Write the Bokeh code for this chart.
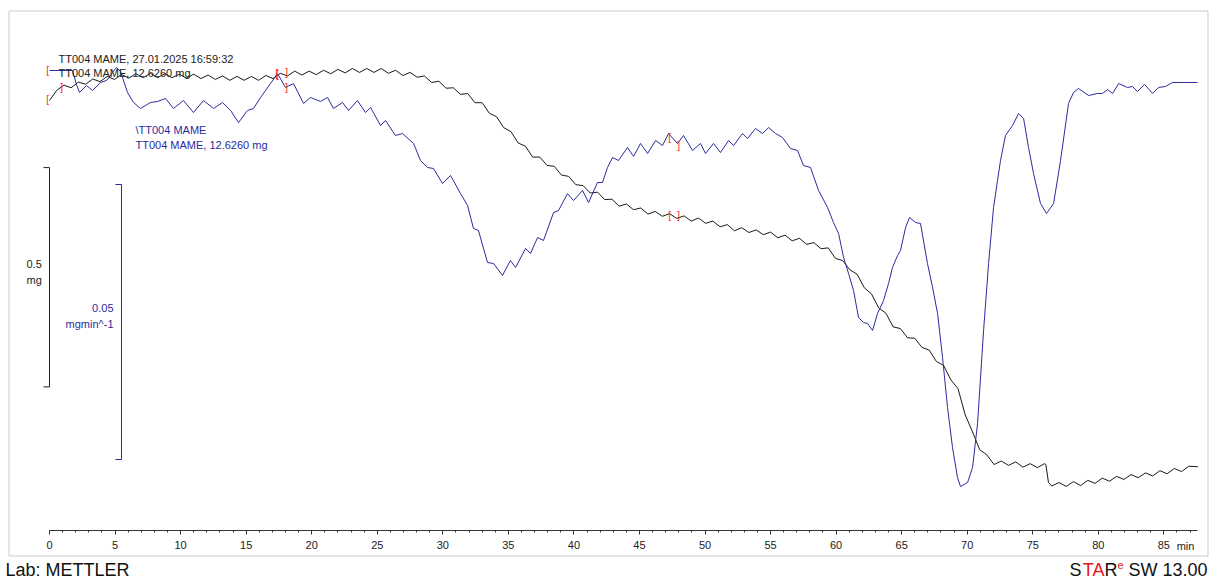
from bokeh.plotting import figure
from bokeh.models import Range1d, LinearAxis, SingleIntervalTicker, Label, BoxAnnotation
from bokeh.core.properties import value
from bokeh.embed import file_html
from bokeh.resources import INLINE

# ---------------- data ----------------
tg_time = [0.00, 0.55, 1.10, 1.65, 2.20, 2.75, 3.30, 3.85, 4.40, 4.95, 5.50, 6.05, 6.60, 7.15, 7.70,
           8.25, 8.80, 9.35, 9.90, 10.45, 11.00, 11.55, 12.10, 12.65, 13.20, 13.75, 14.30, 14.85,
           15.40, 15.95, 16.50, 17.05, 17.60, 18.15, 18.70, 19.25, 19.80, 20.35, 20.90, 21.45,
           22.00, 22.55, 23.10, 23.65, 24.20, 24.75, 25.30, 25.85, 26.40, 26.95, 27.50, 28.05,
           28.60, 29.15, 29.70, 30.25, 30.80, 31.35, 31.90, 32.45, 33.00, 33.55, 34.10, 34.65,
           35.20, 35.75, 36.30, 36.85, 37.40, 37.95, 38.50, 39.05, 39.60, 40.15, 40.70, 41.25,
           41.80, 42.35, 42.90, 43.45, 44.00, 44.55, 45.10, 45.65, 46.20, 46.75, 47.30, 47.85,
           48.40, 48.95, 49.50, 50.05, 50.60, 51.15, 51.70, 52.25, 52.80, 53.35, 53.90, 54.45,
           55.00, 55.55, 56.10, 56.65, 57.20, 57.75, 58.30, 58.85, 59.40, 59.95, 60.50, 61.05,
           61.60, 62.15, 62.70, 63.25, 63.80, 64.35, 64.90, 65.45, 66.00, 66.55, 67.10, 67.65,
           68.20, 68.75, 69.30, 69.85, 70.40, 70.95, 71.50, 72.05, 72.60, 73.15, 73.70, 74.25,
           74.80, 75.35, 75.90, 76.00, 76.20, 76.45, 77.00, 77.55, 78.10, 78.65, 79.20, 79.75,
           80.30, 80.85, 81.40, 81.95, 82.50, 83.05, 83.60, 84.15, 84.70, 85.25, 85.80, 86.35,
           86.90, 87.60]
tg_mg = [12.626, 12.649, 12.661, 12.655, 12.668, 12.663, 12.675, 12.669, 12.681, 12.674, 12.685,
         12.677, 12.687, 12.678, 12.688, 12.678, 12.687, 12.678, 12.686, 12.677, 12.686, 12.676,
         12.684, 12.674, 12.682, 12.672, 12.681, 12.672, 12.681, 12.672, 12.683, 12.676, 12.688,
         12.682, 12.693, 12.684, 12.693, 12.685, 12.695, 12.687, 12.697, 12.689, 12.699, 12.690,
         12.699, 12.690, 12.699, 12.688, 12.695, 12.683, 12.690, 12.679, 12.682, 12.667, 12.670,
         12.654, 12.655, 12.640, 12.642, 12.621, 12.621, 12.597, 12.589, 12.564, 12.555, 12.529,
         12.522, 12.497, 12.497, 12.478, 12.476, 12.456, 12.453, 12.434, 12.432, 12.415, 12.417,
         12.400, 12.401, 12.385, 12.390, 12.377, 12.381, 12.367, 12.373, 12.362, 12.368, 12.357,
         12.363, 12.351, 12.358, 12.346, 12.351, 12.338, 12.343, 12.329, 12.336, 12.325, 12.331,
         12.320, 12.326, 12.313, 12.319, 12.306, 12.312, 12.298, 12.302, 12.288, 12.290, 12.266,
         12.261, 12.240, 12.230, 12.199, 12.185, 12.153, 12.141, 12.110, 12.106, 12.085, 12.084,
         12.063, 12.057, 12.031, 12.022, 11.989, 11.969, 11.909, 11.871, 11.830, 11.818, 11.796,
         11.804, 11.794, 11.802, 11.790, 11.798, 11.789, 11.798, 11.796, 11.755, 11.747, 11.755,
         11.746, 11.757, 11.748, 11.760, 11.753, 11.765, 11.758, 11.769, 11.762, 11.773, 11.766,
         11.777, 11.770, 11.782, 11.775, 11.787, 11.780, 11.792, 11.791]

dtg_time = [0.00, 1.75, 2.06, 2.29, 2.82, 3.28, 3.89, 4.35, 4.81, 5.11, 5.42, 5.95, 6.41, 6.94,
            7.70, 8.24, 8.85, 9.46, 10.22, 10.98, 11.75, 12.51, 13.20, 13.81, 14.42, 15.10,
            15.56, 16.10, 16.86, 17.39, 18.00, 18.61, 19.38, 19.91, 20.67, 21.21, 21.66, 22.35,
            22.81, 23.49, 24.10, 24.49, 25.25, 25.63, 26.39, 26.93, 27.77, 28.30, 28.83, 29.29,
            29.98, 30.59, 31.35, 31.89, 32.34, 32.72, 33.41, 33.87, 34.55, 35.16, 35.55, 36.31,
            36.69, 37.23, 37.68, 38.45, 38.83, 39.51, 39.97, 40.66, 41.12, 41.80, 42.18, 42.56,
            42.95, 43.40, 44.09, 44.55, 45.08, 45.62, 46.23, 46.76, 47.22, 47.90, 48.36, 49.05,
            49.66, 50.04, 50.65, 51.18, 51.80, 52.18, 52.86, 53.24, 53.85, 54.39, 54.85, 55.38,
            55.91, 56.52, 57.06, 57.51, 58.05, 58.66, 59.35, 59.80, 60.19, 60.57, 60.95, 61.33,
            61.71, 62.09, 62.40, 62.78, 63.16, 63.62, 64.00, 64.30, 64.69, 64.91, 65.30, 65.60,
            66.06, 66.44, 66.97, 67.36, 67.74, 68.12, 68.50, 68.88, 69.26, 69.49, 70.03, 70.41,
            70.79, 71.25, 71.63, 72.01, 72.31, 72.54, 72.92, 73.46, 73.92, 74.30, 74.68, 75.06,
            75.59, 76.05, 76.59, 77.12, 77.73, 78.11, 78.49, 79.26, 79.94, 80.32, 80.71, 81.09,
            81.55, 82.23, 82.61, 82.99, 83.53, 84.14, 84.60, 85.13, 85.66, 87.57]
dtg_mg_min = [0.00182, 0.00182, -0.00073, -0.00218, -0.00091, -0.00182, -0.00036, 0.00000,
              0.00145, 0.00236, 0.00164, -0.00218, -0.00400, -0.00509, -0.00400, -0.00382,
              -0.00327, -0.00509, -0.00364, -0.00582, -0.00364, -0.00509, -0.00400, -0.00545,
              -0.00764, -0.00545, -0.00509, -0.00309, -0.00055, 0.00127, -0.00127, -0.00055,
              -0.00418, -0.00309, -0.00382, -0.00309, -0.00509, -0.00400, -0.00545, -0.00364,
              -0.00582, -0.00491, -0.00818, -0.00727, -0.01000, -0.00964, -0.01145, -0.01455,
              -0.01582, -0.01600, -0.01873, -0.01727, -0.02055, -0.02273, -0.02691, -0.02727,
              -0.03309, -0.03327, -0.03545, -0.03273, -0.03400, -0.03055, -0.03145, -0.02855,
              -0.02909, -0.02400, -0.02364, -0.02055, -0.02182, -0.02000, -0.02218, -0.01855,
              -0.01855, -0.01582, -0.01400, -0.01455, -0.01218, -0.01382, -0.01145, -0.01327,
              -0.01091, -0.01182, -0.00964, -0.01145, -0.01000, -0.01273, -0.01145, -0.01327,
              -0.01145, -0.01309, -0.01091, -0.01182, -0.00964, -0.01055, -0.00873, -0.00964,
              -0.00855, -0.00964, -0.01036, -0.01236, -0.01273, -0.01545, -0.01582, -0.02000,
              -0.02309, -0.02582, -0.02782, -0.03218, -0.03509, -0.03818, -0.04309, -0.04400,
              -0.04418, -0.04545, -0.04236, -0.04000, -0.03691, -0.03400, -0.03182, -0.03091,
              -0.02673, -0.02491, -0.02582, -0.02600, -0.03327, -0.03764, -0.04236, -0.05036,
              -0.05945, -0.06673, -0.07218, -0.07382, -0.07309, -0.07036, -0.06236, -0.04545,
              -0.03327, -0.02309, -0.01818, -0.01455, -0.01000, -0.00818, -0.00600, -0.00691,
              -0.01218, -0.01691, -0.02236, -0.02418, -0.02236, -0.01455, -0.00418, -0.00218,
              -0.00145, -0.00273, -0.00236, -0.00236, -0.00164, -0.00236, -0.00055, -0.00127,
              -0.00109, -0.00200, -0.00073, -0.00236, -0.00127, -0.00109, -0.00036, -0.00036]

# evaluation limit markers
tg_mark_time = [-0.15, 0.92, 17.32, 18.08, 47.30, 47.98]
tg_mark_mg = [12.628, 12.656, 12.688, 12.690, 12.364, 12.364]
tg_mark_text = ["[", "]", "[", "]", "[", "]"]
dtg_mark_time = [-0.15, 17.39, 18.08, 47.30, 47.98]
dtg_mark_val = [0.00182, 0.00109, -0.00127, -0.01036, -0.01182]
dtg_mark_text = ["[", "[", "]", "[", "]"]

x_ticks_interval = 5
tg_scale_mg = 0.5
dtg_scale = 0.05
tg_bar_top = 12.473
dtg_bar_top = -0.01891

BLUE = "#2b2b9e"
FONT = "Liberation Sans"
W, H = 1216, 580

p = figure(width=W, height=H, output_backend="svg", toolbar_location=None,
           x_axis_location=None, y_axis_location=None,
           x_range=Range1d(-3.738, 89.016), y_range=Range1d(11.5316, 12.854),
           min_border_left=0, min_border_right=0, min_border_top=0, min_border_bottom=0)
p.extra_y_ranges = {"dtg": Range1d(-0.090909, 0.014545)}
p.outline_line_color = None
p.background_fill_color = "white"
p.border_fill_color = "white"
p.grid.visible = False

# surrounding box
p.add_layout(BoxAnnotation(left=8.5, right=1207.5, top=H - 10.5, bottom=H - 555.5,
                           left_units="screen", right_units="screen",
                           top_units="screen", bottom_units="screen",
                           fill_color=None, line_color="#555555", line_width=1))

p.line(tg_time, tg_mg, line_color="#1a1a1a", line_width=1)
p.line(dtg_time, dtg_mg_min, line_color=BLUE, line_width=1, y_range_name="dtg")

p.text(tg_mark_time, tg_mark_mg, text=tg_mark_text, text_color="#ff2020",
       text_font=value(FONT), text_font_size=value("10px"), text_align="center",
       text_baseline="middle")
p.text(dtg_mark_time, dtg_mark_val, text=dtg_mark_text, text_color="#ff2020",
       text_font=value(FONT), text_font_size=value("10px"), text_align="center",
       text_baseline="middle", y_range_name="dtg")

# scale bars
p.segment(x0=[0, -0.46, -0.46], y0=[tg_bar_top, tg_bar_top, tg_bar_top - tg_scale_mg],
          x1=[0, 0, 0], y1=[tg_bar_top - tg_scale_mg, tg_bar_top, tg_bar_top - tg_scale_mg],
          line_color="#222222", line_width=1)
p.segment(x0=[5.49, 5.03, 5.03], y0=[dtg_bar_top, dtg_bar_top, dtg_bar_top - dtg_scale],
          x1=[5.49, 5.49, 5.49], y1=[dtg_bar_top - dtg_scale, dtg_bar_top, dtg_bar_top - dtg_scale],
          line_color=BLUE, line_width=1, y_range_name="dtg")

# x axis inside the box
xaxis = LinearAxis(fixed_location=11.646,
                   ticker=SingleIntervalTicker(interval=x_ticks_interval, num_minor_ticks=5),
                   bounds=(0, 87.6))
xaxis.axis_line_color = "#333333"
xaxis.major_tick_line_color = "#333333"
xaxis.minor_tick_line_color = "#333333"
xaxis.major_tick_in = 0
xaxis.major_tick_out = 4
xaxis.minor_tick_in = 0
xaxis.minor_tick_out = 2
xaxis.major_label_standoff = 7
xaxis.major_label_text_font = FONT
xaxis.major_label_text_font_size = "11px"
xaxis.major_label_text_color = "#222222"
p.add_layout(xaxis, "below")


def lab(x, py, text, color="#222222", size="11px", align="left", baseline="middle", font=FONT):
    p.add_layout(Label(x=x, y=H - py, x_units="screen", y_units="screen", text=text,
                       text_color=color, text_font=font, text_font_size=size,
                       text_align=align, text_baseline=baseline))


lab(1185, 545, "min", align="center")
lab(58, 58, "TT004 MAME, 27.01.2025 16:59:32")
lab(58, 72, "TT004 MAME, 12.6260 mg")
lab(135, 129, "\\TT004 MAME", color=BLUE)
lab(135, 144, "TT004 MAME, 12.6260 mg", color=BLUE)
lab(26, 263, "0.5")
lab(26, 279, "mg")
lab(113, 307, "0.05", color=BLUE, align="right")
lab(113, 323, "mgmin^-1", color=BLUE, align="right")

# footer
lab(5, 569, "Lab: METTLER", color="#111111", size="18px")
lab(1207, 569, "SW 13.00", color="#111111", size="18px", align="right")
lab(1123, 564, "e", color="#e8141b", size="11px", align="right")
lab(1117, 569, "R", color="#111111", size="18px", align="right")
lab(1104, 569, "TA", color="#e8141b", size="18px", align="right")
lab(1081, 569, "S", color="#111111", size="18px", align="right")

open("out.html", "w").write(file_html(p, INLINE))
